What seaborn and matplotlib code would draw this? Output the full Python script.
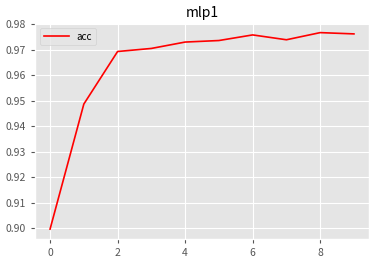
import matplotlib
matplotlib.use("Agg")
import matplotlib.pyplot as plt
import seaborn as sns
import pandas as pd

epochs = [0, 1, 2, 3, 4, 5, 6, 7, 8, 9]
acc = [0.8997, 0.9487, 0.9693, 0.9705, 0.9730, 0.9736, 0.9758, 0.9739, 0.9767, 0.9762]

plt.style.use('ggplot')
plt.rcParams['font.family'] = ['Noto Sans CJK SC', 'DejaVu Sans']
plt.rcParams['axes.unicode_minus'] = False

df = pd.DataFrame({'epoch': epochs, 'acc': acc})

fig, ax = plt.subplots(figsize=(3.79, 2.62), dpi=100)
fig.subplots_adjust(left=0.092, right=0.974, top=0.913, bottom=0.088)
sns.lineplot(data=df, x='epoch', y='acc', color='red', label='acc', ax=ax, linewidth=1.2)
ax.set_title('mlp1', fontsize=10, color='black', pad=4)
ax.set_xlabel('')
ax.set_ylabel('')
ax.set_xticks([0, 2, 4, 6, 8])
ax.tick_params(labelsize=7.5, colors='#555555', length=3)
ax.yaxis.set_major_formatter(matplotlib.ticker.FormatStrFormatter('%.2f'))
ax.legend(loc='upper left', fontsize=7, handlelength=2.6)
fig.savefig('out.png', dpi=100)
